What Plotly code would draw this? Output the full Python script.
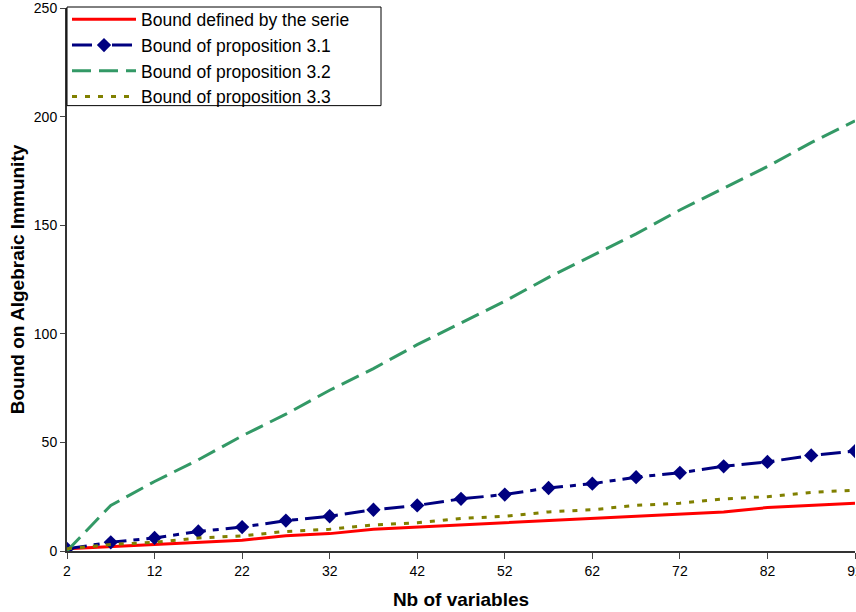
import plotly.graph_objects as go

n_vars = [2, 7, 12, 17, 22, 27, 32, 37, 42, 47, 52, 57, 62, 67, 72, 77, 82, 87, 92]
bound_serie = [1, 2, 3, 4, 5, 7, 8, 10, 11, 12, 13, 14, 15, 16, 17, 18, 20, 21, 22]
bound_31 = [1, 4, 6, 9, 11, 14, 16, 19, 21, 24, 26, 29, 31, 34, 36, 39, 41, 44, 46]
bound_32 = [0, 21, 32, 42, 53, 63, 74, 84, 95, 105, 115, 126, 136, 146, 157, 167, 177, 188, 198]
bound_33 = [1, 3, 4, 6, 7, 9, 10, 12, 13, 15, 16, 18, 19, 21, 22, 24, 25, 27, 28]

x_ticks = [2, 12, 22, 32, 42, 52, 62, 72, 82, 92]
y_ticks = [0, 50, 100, 150, 200, 250]

narrow = "Liberation Sans Narrow, Arial Narrow, Liberation Sans, Arial"

fig = go.Figure()
fig.add_trace(go.Scatter(x=n_vars, y=bound_serie, mode="lines",
                         name="Bound defined by the serie",
                         line=dict(color="#FF0000", width=3)))
fig.add_trace(go.Scatter(x=n_vars, y=bound_31, mode="lines+markers",
                         name="Bound of proposition 3.1",
                         line=dict(color="#000080", width=3, dash="20px,7px,6px,7px"),
                         marker=dict(symbol="diamond", size=11, color="#000080")))
fig.add_trace(go.Scatter(x=n_vars, y=bound_32, mode="lines",
                         name="Bound of proposition 3.2",
                         line=dict(color="#339966", width=3, dash="19px,8px")))
fig.add_trace(go.Scatter(x=n_vars, y=bound_33, mode="lines",
                         name="Bound of proposition 3.3",
                         line=dict(color="#808000", width=3, dash="5px,8px")))

# legend frame (drawn as a paper-referenced rectangle)
fig.add_shape(type="rect", xref="paper", yref="paper",
              x0=0, x1=(381 - 67) / 788, y0=1 - (104 - 6) / 545, y1=1 + 1 / 545,
              line=dict(color="black", width=1), fillcolor="white", layer="above")

fig.update_layout(
    width=856, height=612,
    margin=dict(l=67, r=1, t=6, b=61),
    paper_bgcolor="white", plot_bgcolor="white",
    font=dict(family="Liberation Sans, Arial", color="black"),
    legend=dict(x=0, y=1.012, xanchor="left", yanchor="top",
                borderwidth=0, bgcolor="rgba(0,0,0,0)",
                font=dict(size=17.5, family="Liberation Sans, Arial"),
                itemwidth=64, tracegroupgap=0),
    xaxis=dict(range=[2, 92], tickvals=x_ticks, ticks="outside", ticklen=6,
               showline=True, linecolor="#333333", linewidth=2, showgrid=False,
               zeroline=False, tickfont=dict(size=14, family=narrow),
               ticklabeloverflow="allow", automargin=False,
               title=dict(text="<b>Nb of variables</b>", font=dict(size=19, family=narrow))),
    yaxis=dict(range=[0, 250], tickvals=y_ticks, ticks="outside", ticklen=5,
               showline=True, linecolor="#333333", linewidth=2, showgrid=False,
               zeroline=False, tickfont=dict(size=14, family=narrow),
               ticklabeloverflow="allow", automargin=False,
               title=dict(text="<b>Bound on Algebraic Immunity</b>", font=dict(size=19, family=narrow),
                          standoff=4)),
)

fig.write_html("out.html", config={"displayModeBar": False},
               post_script="document.body.style.margin='0';")
